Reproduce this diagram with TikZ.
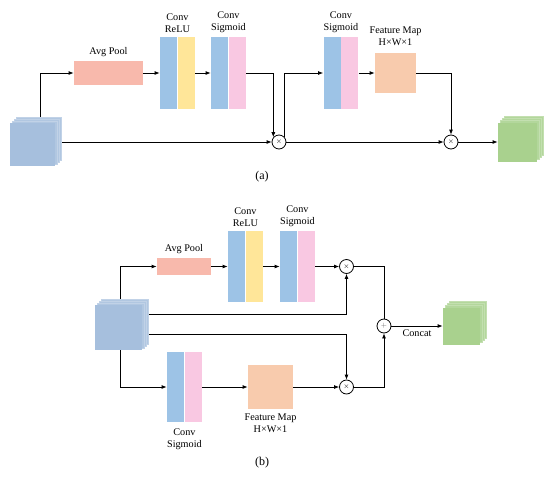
\documentclass[tikz,border=0pt]{standalone}
\usepackage{fontspec}
\setmainfont{Liberation Serif}
\usetikzlibrary{arrows.meta,positioning}
\pgfdeclarelayer{wires}
\pgfsetlayers{wires,main}

\definecolor{cubeblue}{RGB}{166,191,221}
\definecolor{cubegreen}{RGB}{169,209,142}
\definecolor{convblue}{RGB}{157,195,230}
\definecolor{reluyellow}{RGB}{255,230,153}
\definecolor{sigpink}{RGB}{249,200,226}
\definecolor{poolred}{RGB}{248,185,172}
\definecolor{fmorange}{RGB}{248,203,173}

% stacked feature cube: name, x, y, width, height, colour
\newcommand{\featcube}[6]{%
  \foreach \k in {3,2,1}
    \filldraw[draw=#6!70,line width=0.3pt,fill=#6!88] ({#2-#4/2+2*\k},{#3-#5/2-2*\k}) rectangle ++(#4,#5);
  \node[fill=#6,minimum width=#4,minimum height=#5,inner sep=0pt] (#1) at (#2,#3) {};
}

\begin{document}
\begin{tikzpicture}[x=1pt,y=-1pt,
  >={Latex[length=5pt,width=4pt]},
  every path/.style={line width=0.8pt},
  lbl/.style={font=\fontsize{10.2}{12}\selectfont,align=center,inner sep=1pt},
  bar/.style={minimum width=17,minimum height=72,inner sep=0pt},
  op/.style={draw,circle,minimum size=14,inner sep=0pt,font=\scriptsize}]
\useasboundingbox (0,0) rectangle (550,480);

%%% (a)
\featcube{inA}{32.5}{144.5}{45}{43}{cubeblue}
\node[fill=poolred,minimum width=69,minimum height=24,inner sep=0pt] (avgA) at (108.5,73) {};
\node[lbl,above=3pt of avgA] (tavgA) {Avg Pool};
\node[bar,fill=convblue] (reluA1) at (168.5,73) {};
\node[bar,fill=reluyellow,right=0pt of reluA1] (reluA2) {};
\node[lbl,above=3pt of reluA1.north east] (treluA) {Conv\\ReLU};
\node[bar,fill=convblue] (sigA1) at (219.5,73) {};
\node[bar,fill=sigpink,right=0pt of sigA1] (sigA2) {};
\node[lbl,above=3pt of sigA1.north east] (tsigA) {Conv\\Sigmoid};
\node[op] (mulA1) at (279,142) {$\times$};
\node[bar,fill=convblue] (spA1) at (332,73) {};
\node[bar,fill=sigpink,right=0pt of spA1] (spA2) {};
\node[lbl,above=3pt of spA1.north east] (tspA) {Conv\\Sigmoid};
\node[fill=fmorange,minimum width=41,minimum height=40,inner sep=0pt] (fmA) at (395.5,73) {};
\node[lbl,above=6pt of fmA] (tfmA) {Feature Map\\H×W×1};
\node[op] (mulA2) at (451,142) {$\times$};
\featcube{outA}{517.5}{142}{39}{39}{cubegreen}
\node[font=\fontsize{12}{14}\selectfont] (capA) at (262,177) {(a)};

\begin{pgfonlayer}{wires}
\draw[->] ([xshift=7.5pt]inA.north) |- (avgA.west);
\draw[->] (avgA) -- (reluA1);
\draw[->] (reluA2) -- (sigA1);
\draw[->] (sigA2.east) -| (mulA1.140);
\draw[->] (inA.east |- mulA1) -- (mulA1);
\draw[->] (mulA1.45) |- (spA1.west);
\draw[->] (spA2) -- (fmA);
\draw[->] (fmA.east) -| (mulA2.north);
\draw[->] (mulA1) -- (mulA2);
\draw[->] (mulA2) -- (outA);
\end{pgfonlayer}

%%% (b)
\featcube{inB}{118.5}{327.5}{47}{45}{cubeblue}
\node[fill=poolred,minimum width=54,minimum height=17,inner sep=0pt] (avgB) at (184,266.5) {};
\node[lbl,above=3pt of avgB] (tavgB) {Avg Pool};
\node[bar,minimum height=71,fill=convblue] (reluB1) at (236.5,266.5) {};
\node[bar,minimum height=71,fill=reluyellow,right=0pt of reluB1] (reluB2) {};
\node[lbl,above=3pt of reluB1.north east] (treluB) {Conv\\ReLU};
\node[bar,minimum height=71,fill=convblue] (sigB1) at (288.5,266.5) {};
\node[bar,minimum height=71,fill=sigpink,right=0pt of sigB1] (sigB2) {};
\node[lbl,above=3pt of sigB1.north east] (tsigB) {Conv\\Sigmoid};
\node[op] (mulB1) at (346.5,266.5) {$\times$};
\node[bar,minimum height=70,fill=convblue] (spB1) at (175.5,387) {};
\node[bar,minimum height=70,fill=sigpink,right=0pt of spB1] (spB2) {};
\node[lbl,below=5pt of spB1.south east] (tspB) {Conv\\Sigmoid};
\node[fill=fmorange,minimum width=45,minimum height=44,inner sep=0pt] (fmB) at (270.5,387) {};
\node[lbl,below=3pt of fmB] (tfmB) {Feature Map\\H×W×1};
\node[op] (mulB2) at (346.5,387) {$\times$};
\node[op,text=black!60] (addB) at (384,326) {$+$};
\featcube{outB}{461.5}{326}{37}{37}{cubegreen}
\node[font=\fontsize{12}{14}\selectfont] (capB) at (262,463) {(b)};

\begin{pgfonlayer}{wires}
\draw[->] ([xshift=1.5pt]inB.north) |- (avgB.west);
\draw[->] (avgB) -- (reluB1);
\draw[->] (reluB2) -- (sigB1);
\draw[->] (sigB2) -- (mulB1);
\draw[->] ([yshift=13.5pt]inB.east) -| (mulB1.south);
\draw[->] ([yshift=-6.5pt]inB.east) -| (mulB2.north);
\draw[->] ([xshift=1.5pt]inB.south) |- (spB1.west);
\draw[->] (spB2) -- (fmB);
\draw[->] (fmB) -- (mulB2);
\draw (mulB1) -| (addB.north);
\draw[->] (mulB2) -| (addB.south);
\draw[->] (addB) -- node[lbl,below=2pt] (tcat) {Concat} (outB);
\end{pgfonlayer}
\end{tikzpicture}
\end{document}
